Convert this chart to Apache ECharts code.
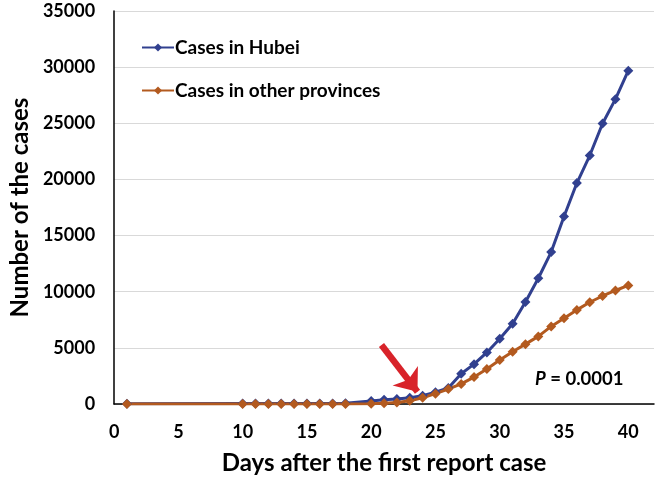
<!DOCTYPE html>
<html>
<head>
<meta charset="utf-8">
<script src="https://cdn.jsdelivr.net/npm/echarts@6/dist/echarts.min.js"></script>
<style>html,body{margin:0;padding:0;background:#fff}#c{width:657px;height:483px}</style>
</head>
<body>
<div id="c"></div>
<script>
var days = [1,10,11,12,13,14,15,16,17,18,20,21,22,23,24,25,26,27,28,29,30,31,32,33,34,35,36,37,38,39,40];
var hubei = [27,41,41,41,41,41,41,41,45,62,270,375,444,549,729,1052,1430,2700,3550,4590,5810,7150,9090,11200,13530,16700,19680,22130,24980,27150,29680];
var otherProv = [0,0,0,0,0,0,0,0,0,0,21,65,127,281,558,923,1330,1790,2400,3125,3910,4660,5330,6020,6910,7646,8380,9060,9620,10110,10560];
var xTicks = [0,5,10,15,20,25,30,35,40];
var yTicks = [0,5000,10000,15000,20000,25000,30000,35000];
var arrowStart = [20.8, 5250];
var arrowEnd = [23.6, 1100];
var pText = 'P';
var pValue = ' = 0.0001';

var FONT = 'Lato';
function pairs(xs, ys){ return xs.map(function(x,i){ return [x, ys[i]]; }); }

var chart = echarts.init(document.getElementById('c'), null, {renderer:'canvas'});
chart.setOption({
  animation: false,
  backgroundColor: '#fff',
  textStyle: {fontFamily: FONT},
  grid: {left: 112, right: 3, top: 11, bottom: 79, containLabel: false},
  legend: {
    orient: 'vertical', left: 136, top: 33, itemGap: 24,
    itemWidth: 32, itemHeight: 10,
    textStyle: {fontFamily: FONT, fontWeight: 'bold', fontSize: 19, color: '#000', padding: [0,0,0,-4]},
    data: ['Cases in Hubei', 'Cases in other provinces']
  },
  xAxis: {
    type: 'value', min: 0, max: 42, interval: 5,
    name: 'Days after the first report case', nameLocation: 'middle', nameGap: 47,
    nameTextStyle: {fontFamily: FONT, fontWeight: 'bold', fontSize: 24, color: '#000'},
    axisLine: {show: true, onZero: false, lineStyle: {color: '#000', width: 1.5}},
    axisTick: {show: false},
    splitLine: {show: false},
    axisLabel: {
      fontFamily: FONT, fontWeight: 'bold', fontSize: 18, color: '#000', margin: 19,
      showMaxLabel: false,
      formatter: function(v){ return xTicks.indexOf(v) >= 0 ? String(v) : ''; }
    }
  },
  yAxis: {
    type: 'value', min: 0, max: 35000, interval: 5000,
    name: 'Number of the cases', nameLocation: 'middle', nameGap: 80,
    nameTextStyle: {fontFamily: FONT, fontWeight: 'bold', fontSize: 24, color: '#000'},
    axisLine: {show: true, lineStyle: {color: '#000', width: 1.5}},
    axisTick: {show: false},
    splitLine: {show: true, lineStyle: {color: '#d9d9d9', width: 1}},
    axisLabel: {
      fontFamily: FONT, fontWeight: 'bold', fontSize: 18, color: '#000', margin: 19,
      formatter: function(v){ return yTicks.indexOf(v) >= 0 ? String(v) : ''; }
    }
  },
  series: [
    {
      name: 'Cases in Hubei', type: 'line', data: pairs(days, hubei),
      symbol: 'diamond', symbolSize: 10, showAllSymbol: true,
      itemStyle: {color: '#31408f'},
      lineStyle: {color: '#31408f', width: 3},
      markLine: {
        silent: true, symbol: ['none', 'arrow'], symbolSize: [24, 20],
        label: {show: false},
        lineStyle: {color: '#d8232a', width: 6.5, type: 'solid'},
        data: [[{coord: arrowStart}, {coord: arrowEnd}]]
      }
    },
    {
      name: 'Cases in other provinces', type: 'line', data: pairs(days, otherProv),
      symbol: 'diamond', symbolSize: 10, showAllSymbol: true,
      itemStyle: {color: '#b35a1f'},
      lineStyle: {color: '#b35a1f', width: 3}
    }
  ],
  graphic: [{
    type: 'text', left: 535, top: 370,
    style: {
      text: '{i|' + pText + '}{n|' + pValue + '}',
      rich: {
        i: {fontFamily: FONT, fontWeight: 'bold', fontStyle: 'italic', fontSize: 18.5, fill: '#000'},
        n: {fontFamily: FONT, fontWeight: 'bold', fontSize: 18.5, fill: '#000'}
      }
    }
  }]
});
</script>
</body>
</html>
